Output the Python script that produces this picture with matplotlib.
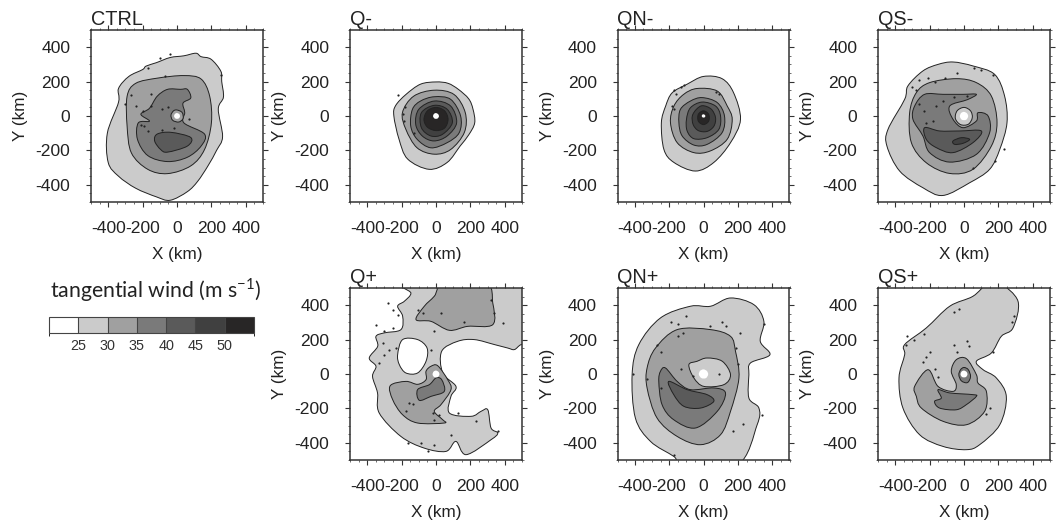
import numpy as np
import matplotlib
matplotlib.use('Agg')
import matplotlib.pyplot as plt
from matplotlib.path import Path
from matplotlib.patches import PathPatch
from matplotlib.colors import ListedColormap, BoundaryNorm
from matplotlib.cm import ScalarMappable

plt.rcParams['font.family'] = ['Liberation Sans', 'DejaVu Sans']
plt.rcParams['axes.unicode_minus'] = False

# wind levels and shades
levels = [20, 25, 30, 35, 40, 45, 50, 55]
shades = ['#ffffff', '#cbcbcb', '#a0a0a0', '#7a7a7a', '#5a5a5a', '#404040', '#282626']
ticks = [-400, -200, 0, 200, 400]

# contours, x,y in km
ctrl_25 = [(110,365),(140,345),(198,330),(255,260),(260,200),(270,110),(240,40),(265,-120),(230,-200),(180,-290),(120,-380),(60,-440),(-40,-490),(-120,-470),(-240,-420),(-340,-350),(-400,-270),(-405,-100),(-340,80),(-340,160),(-280,230),(-200,270),(-180,290),(-120,310),(-40,340),(40,350)]
ctrl_30 = [(40,235),(140,215),(190,115),(200,-40),(160,-195),(80,-290),(-55,-335),(-170,-310),(-265,-215),(-290,-60),(-290,115),(-240,190),(-115,220)]
ctrl_35 = [(60,155),(80,105),(35,75),(45,20),(40,-40),(160,-105),(140,-175),(60,-240),(-55,-265),(-170,-230),(-230,-135),(-225,-40),(-160,-30),(-210,10),(-160,45),(-115,115),(-55,155),(20,155)]
ctrl_40 = [(-130,-145),(-115,-105),(-35,-95),(80,-125),(60,-175),(-55,-210),(-95,-195)]
ctrl_ring = [(0,35),(30,20),(35,-15),(10,-35),(-25,-25),(-35,5),(-20,30)]
ctrl_eye = [(0,17),(14,10),(17,-4),(8,-15),(-8,-15),(-17,-2),(-12,12)]
ctrl_specks = [(-300,70),(-270,120),(-240,60),(-200,30),(-210,-50),(-150,60),(-90,40),(-50,50),(-170,-90),(-90,-80),(70,-20),(-20,-70),(-150,130),(-70,230),(-190,-60),(-40,360),(-170,280),(-100,340),(255,240)]

qm_25 = [(0,198),(70,190),(130,155),(190,100),(215,40),(225,-40),(190,-110),(140,-175),(65,-270),(-40,-310),(-165,-250),(-215,-135),(-245,0),(-235,60),(-175,125),(-90,185)]
qm_30 = [(-10,150),(105,125),(170,20),(165,-95),(85,-195),(-10,-222),(-110,-185),(-175,-78),(-195,20),(-130,115)]
qm_35 = [(-10,112),(85,97),(143,0),(135,-97),(65,-155),(-30,-185),(-110,-135),(-147,-58),(-137,39),(-90,87)]
qm_40 = [(-10,87),(85,58),(120,-39),(65,-116),(-12,-145),(-80,-116),(-118,-48),(-100,39)]
qm_45 = [(-10,62),(65,39),(95,-39),(37,-107),(-30,-116),(-85,-68),(-85,19)]
qm_50 = [(0,50),(50,30),(70,-20),(50,-70),(0,-85),(-50,-65),(-70,-20),(-50,30)]
qm_eye = [(0,17),(13,10),(17,-3),(8,-15),(-8,-15),(-17,-2),(-12,12)]
qm_specks = [(-222,120),(-190,10),(-185,-30),(-130,-100),(-180,55)]

qnm_25 = [(0,230),(108,217),(175,135),(215,-20),(157,-155),(60,-270),(-47,-320),(-172,-270),(-230,-195),(-245,-40),(-220,58),(-182,135),(-95,185)]
qnm_30 = [(-37,160),(80,145),(138,58),(167,-20),(138,-135),(40,-203),(-56,-213),(-153,-155),(-192,-39),(-172,58),(-115,126)]
qnm_35 = [(-8,107),(80,78),(122,0),(108,-97),(21,-165),(-56,-169),(-124,-116),(-143,-39),(-134,39),(-76,87)]
qnm_40 = [(-8,81),(70,58),(99,0),(89,-78),(21,-126),(-56,-132),(-95,-87),(-99,-20),(-76,48)]
qnm_45 = [(-5,60),(45,40),(70,-10),(60,-60),(20,-90),(-30,-85),(-60,-50),(-65,0),(-40,40)]
qnm_50 = [(0,30),(30,10),(30,-30),(0,-50),(-30,-30),(-30,10)]
qnm_eye = [(0,10),(9,5),(10,-4),(3,-9),(-7,-7),(-10,2),(-6,8)]
qnm_specks = [(-170,150),(-160,130),(-130,170),(-115,180),(-185,60),(-170,40),(75,140),(90,130)]

qsm_25 = [(-64,314),(52,291),(178,242),(236,116),(250,-39),(208,-194),(149,-310),(33,-388),(-122,-462),(-239,-417),(-374,-320),(-448,-175),(-442,-78),(-345,97),(-326,175),(-239,262),(-151,300)]
qsm_30 = [(-45,217),(72,194),(159,116),(192,-39),(159,-175),(52,-310),(-83,-334),(-219,-272),(-306,-155),(-316,19),(-277,136),(-200,194)]
qsm_35 = [(72,126),(20,95),(-83,58),(-64,-19),(-6,-68),(72,-29),(81,19),(140,0),(149,-97),(72,-223),(-83,-268),(-200,-213),(-239,-116),(-297,-19),(-287,58),(-229,126),(-122,126),(-6,126)]
qsm_40 = [(-142,-87),(-25,-87),(101,-87),(52,-155),(-64,-213),(-161,-184),(-219,-136),(-229,-68)]
qsm_45 = [(-64,-145),(-15,-126),(33,-136),(-6,-159),(-54,-165)]
qsm_ring = [(0,50),(38,30),(48,-10),(25,-48),(-20,-50),(-50,-15),(-40,30)]
qsm_eye = [(0,24),(18,15),(24,-3),(12,-22),(-12,-22),(-24,-3),(-17,17)]
qsm_specks = [(-300,170),(-280,150),(-260,210),(-210,220),(-170,200),(-110,220),(-40,250),(60,280),(100,270),(170,240),(-260,70),(-230,30),(-220,-40),(-180,-30),(-160,60),(-120,90),(-60,110),(20,115),(230,-190),(180,-260),(50,-300)]

qp_25 = [(-194,530),(-146,471),(-184,423),(-223,394),(-194,336),(-204,258),(-301,239),(-349,219),(-339,161),(-388,93),(-349,45),(-369,-14),(-340,-110),(-330,-227),(-204,-363),(-68,-431),(58,-450),(116,-392),(175,-469),(320,-382),(359,-343),(320,-314),(301,-208),(262,-217),(204,-246),(78,-227),(87,-130),(116,-72),(39,6),(33,132),(126,190),(223,200),(340,171),(417,151),(456,142),(495,171),(560,180),(580,540),(200,560)]
qp_hole = [(-194,200),(-107,200),(-52,151),(-58,74),(-107,6),(-175,6),(-213,54),(-223,113)]
qp_30a = [(49,530),(291,530),(330,413),(330,287),(184,277),(78,254),(-29,306),(-116,316),(-68,394),(-10,452)]
qp_30b = [(-29,45),(10,48),(68,-33),(87,-91),(29,-178),(-10,-217),(39,-266),(48,-285),(-107,-285),(-194,-237),(-252,-149),(-266,-68),(-175,-43),(-107,-60),(-58,-33),(-58,16)]
qp_35 = [(0,-23),(33,-33),(48,-101),(-29,-130),(-97,-153),(-107,-91),(-39,-62)]
qp_eye = [(0,20),(15,12),(20,-3),(10,-18),(-10,-18),(-20,-3),(-14,14)]
qp_specks = [(-281,413),(-252,374),(-223,345),(-349,287),(-301,248),(-252,268),(-310,180),(-272,142),(-233,151),(-301,113),(-330,64),(-29,142),(-107,374),(-78,355),(320,433),(340,355),(388,297),(-10,248),(165,301),(29,355),(-155,-169),(-136,-173),(-175,-217),(-19,-227),(19,-237),(-10,-266),(233,-276),(126,-227),(359,-334),(-165,-402),(-87,-402),(-10,-411),(87,-353),(-48,-450)]

qnp_25 = [(157,442),(293,403),(351,306),(330,190),(386,112),(273,64),(264,-4),(264,-140),(322,-198),(312,-295),(196,-530),(-114,-530),(-173,-479),(-308,-392),(-396,-256),(-415,-4),(-376,171),(-250,326),(-76,394),(41,394)]
qnp_30 = [(41,258),(157,219),(186,132),(206,-23),(157,-217),(99,-353),(-17,-411),(-153,-363),(-270,-256),(-328,-81),(-328,35),(-279,151),(-153,258)]
qnp_35 = [(-221,35),(-153,-43),(-76,-91),(60,-81),(128,-111),(80,-217),(-47,-314),(-173,-266),(-241,-178),(-260,-43),(-250,16)]
qnp_40 = [(-202,-43),(-95,-91),(21,-120),(60,-159),(-17,-198),(-114,-188),(-173,-120)]
qnp_hole = [(21,93),(109,74),(157,-4),(118,-62),(2,-72),(-56,-23),(-85,54),(-37,74)]
qnp_eye = [(0,27),(20,17),(27,-3),(14,-24),(-12,-24),(-27,-3),(-20,18)]
qnp_specks = [(-150,290),(-100,340),(-190,300),(-270,170),(-250,130),(-150,220),(-120,240),(40,280),(110,300),(130,280),(210,240),(190,150),(200,60),(170,-330),(230,-290),(340,-240),(350,290),(-130,30),(-60,-10),(90,0),(-250,-80),(-330,-30),(-410,0),(-170,-470)]

qsp_25 = [(208,530),(314,423),(285,268),(217,219),(159,122),(72,74),(111,25),(188,-23),(246,-130),(208,-295),(91,-411),(14,-440),(-122,-421),(-258,-353),(-355,-198),(-378,-23),(-345,112),(-345,171),(-219,268),(-83,394),(52,452),(140,530)]
qsp_30 = [(-209,25),(-151,-72),(-64,-101),(-45,-62),(-74,16),(-45,83),(14,89),(72,-4),(81,-52),(130,-101),(120,-217),(14,-295),(-122,-275),(-248,-198),(-277,-130),(-287,-72)]
qsp_35 = [(-151,-91),(-83,-110),(52,-120),(72,-130),(14,-178),(-45,-208),(-142,-198),(-171,-159),(-132,-140)]
qsp_ring = [(0,38),(25,25),(38,-15),(20,-50),(-15,-40),(-30,-5),(-20,25)]
qsp_eye = [(0,20),(15,12),(20,-3),(10,-18),(-10,-18),(-20,-3),(-14,14)]
qsp_specks = [(-330,220),(-340,170),(-290,200),(-230,230),(-240,70),(-220,100),(-200,130),(-60,170),(20,190),(30,160),(-40,130),(280,300),(290,340),(-170,30),(-150,-20),(150,-200),(130,-230),(-60,360),(-30,380),(170,130)]

# panel name, filled contours (polygon, level index), eye, specks
panels = [
    ('CTRL', [(ctrl_25,1),(ctrl_30,2),(ctrl_35,3),(ctrl_40,4),(ctrl_ring,2)], ctrl_eye, ctrl_specks),
    ('Q-', [(qm_25,1),(qm_30,2),(qm_35,3),(qm_40,4),(qm_45,5),(qm_50,6)], qm_eye, qm_specks),
    ('QN-', [(qnm_25,1),(qnm_30,2),(qnm_35,3),(qnm_40,4),(qnm_45,5),(qnm_50,6)], qnm_eye, qnm_specks),
    ('QS-', [(qsm_25,1),(qsm_30,2),(qsm_35,3),(qsm_40,4),(qsm_45,5),(qsm_ring,1)], qsm_eye, qsm_specks),
    ('Q+', [(qp_25,1),(qp_hole,0),(qp_30a,2),(qp_30b,2),(qp_35,3)], qp_eye, qp_specks),
    ('QN+', [(qnp_25,1),(qnp_30,2),(qnp_35,3),(qnp_40,4),(qnp_hole,1)], qnp_eye, qnp_specks),
    ('QS+', [(qsp_25,1),(qsp_30,2),(qsp_35,3),(qsp_ring,3)], qsp_eye, qsp_specks),
]
# axes left/top in pixels
boxes = [(91,30),(350,30),(617.5,30),(878,30),(350,288),(617.5,288),(878,288)]
W, H = 1056, 522
BOX = 172


def contour_path(pts):
    # closed smooth curve through the read points
    p = np.array(pts, dtype=float)
    n = len(p)
    verts = [p[0]]
    codes = [Path.MOVETO]
    for i in range(n):
        p0, p1, p2, p3 = p[i-1], p[i], p[(i+1) % n], p[(i+2) % n]
        verts += [p1+(p2-p0)/6, p2-(p3-p1)/6, p2]
        codes += [Path.CURVE4]*3
    return Path(verts, codes)


fig = plt.figure(figsize=(W/100, H/100), dpi=100)

for (name, fills, eye, specks), (left, top) in zip(panels, boxes):
    ax = fig.add_axes([left/W, 1-(top+BOX)/H, BOX/W, BOX/H])
    for pts, lev in fills:
        ax.add_patch(PathPatch(contour_path(pts), fc=shades[lev], ec='#222222', lw=0.7))
    ax.add_patch(PathPatch(contour_path(eye), fc='white', ec='none'))
    sx, sy = zip(*specks)
    ax.scatter(sx, sy, s=2.5, c='#222222', lw=0)
    ax.set_xlim(-500, 500)
    ax.set_ylim(-500, 500)
    ax.set_xticks(ticks)
    ax.set_yticks(ticks)
    ax.set_xticks(np.arange(-500, 501, 50), minor=True)
    ax.set_yticks(np.arange(-500, 501, 50), minor=True)
    ax.tick_params(which='major', length=3.5, width=0.8, top=True, right=True, labelsize=12.6, color='#333333', labelcolor='#222222')
    ax.tick_params(axis='x', which='major', pad=10)
    ax.tick_params(axis='y', which='major', pad=11.5)
    ax.tick_params(which='minor', length=1.6, width=0.5, top=True, right=True, color='#333333')
    for s in ax.spines.values():
        s.set_linewidth(1.1)
        s.set_color('#333333')
    ax.set_xlabel('X (km)', fontsize=12.3, color='#222222')
    ax.set_ylabel('Y (km)', fontsize=12.3, color='#222222')
    ax.xaxis.set_label_coords(0.5, -0.26)
    ax.yaxis.set_label_coords(-0.365, 0.5)
    ax.set_title(name, loc='left', fontsize=14.3, color='#222222', pad=3.5)

# colour key
cax = fig.add_axes([49/W, 1-333/H, 205/W, 16/H])
cb = fig.colorbar(ScalarMappable(BoundaryNorm(levels, 7), ListedColormap(shades)), cax=cax,
                  orientation='horizontal', ticks=levels[1:-1], drawedges=True)
cb.ax.tick_params(length=0, labelsize=10.4, labelcolor='#333333', pad=4)
cb.outline.set_linewidth(0.8)
cb.outline.set_edgecolor('#444444')
cb.dividers.set_color('#444444')
cb.dividers.set_linewidth(0.8)
fig.text(50/W, 1-298/H, 'tangential wind (m s$^{\\mathregular{-1}}$)', family='Lato', fontsize=15.3,
         color='#222222', va='baseline')

fig.savefig('out.png', dpi=100)
